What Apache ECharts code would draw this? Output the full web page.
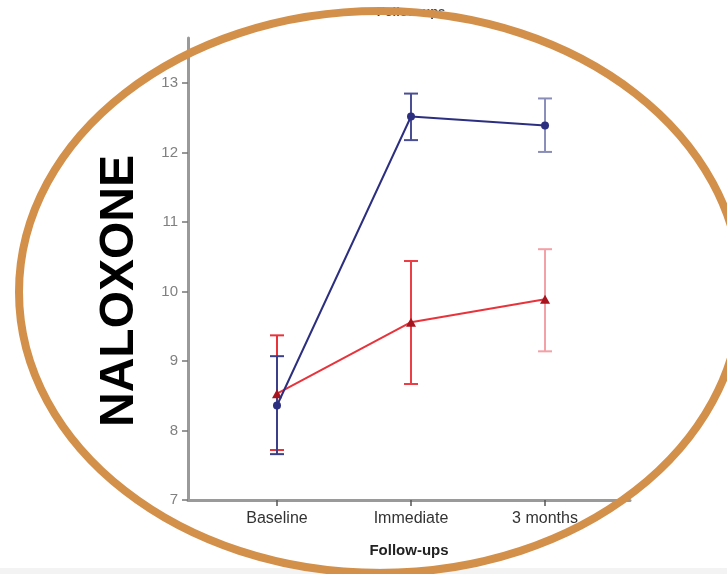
<!DOCTYPE html>
<html>
<head>
<meta charset="utf-8">
<script src="https://cdn.jsdelivr.net/npm/echarts@6/dist/echarts.min.js"></script>
<style>
html,body{margin:0;padding:0;background:#fff;}
#chart{width:727px;height:574px;}
</style>
</head>
<body>
<div id="chart"></div>
<script>
// ---- data ----
const categories = ['Baseline', 'Immediate', '3 months'];
const yTicks = [7, 8, 9, 10, 11, 12, 13];
const blueMean = [8.36, 12.52, 12.39];
const blueLow  = [7.66, 12.18, 12.01];
const blueHigh = [9.07, 12.85, 12.78];
const redMean  = [8.53, 9.56, 9.89];
const redLow   = [7.72, 8.67, 9.14];
const redHigh  = [9.37, 10.44, 10.61];
const titleText = 'Follow-ups';
const xAxisName = 'Follow-ups';
const sideLabel = 'NALOXONE';

// ---- build ----
const xIdx = categories.map((c, i) => i);
const BLUE = '#2c2f80';
const RED = '#e8333b';

function errSeries(low, high, colors) {
  return {
    type: 'custom',
    silent: true,
    data: xIdx.map(i => [i, low[i], high[i]]),
    encode: { x: 0, y: [1, 2] },
    renderItem: function (params, api) {
      const x = api.value(0);
      const lo = api.coord([x, api.value(1)]);
      const hi = api.coord([x, api.value(2)]);
      const w = 7;
      const st = { stroke: colors[params.dataIndex], lineWidth: 2, fill: null };
      return {
        type: 'group',
        children: [
          { type: 'line', shape: { x1: lo[0], y1: lo[1], x2: hi[0], y2: hi[1] }, style: st },
          { type: 'line', shape: { x1: lo[0] - w, y1: lo[1], x2: lo[0] + w, y2: lo[1] }, style: st },
          { type: 'line', shape: { x1: hi[0] - w, y1: hi[1], x2: hi[0] + w, y2: hi[1] }, style: st }
        ]
      };
    },
    z: 2
  };
}

const chart = echarts.init(document.getElementById('chart'), null, { renderer: 'canvas' });
chart.setOption({
  animation: false,
  backgroundColor: '#ffffff',
  grid: { left: 188, right: 97, top: 38, bottom: 74, containLabel: false },
  xAxis: {
    type: 'value',
    min: -0.664,
    max: 2.634,
    name: xAxisName,
    nameLocation: 'middle',
    nameGap: 43,
    nameTextStyle: { fontFamily: 'Liberation Sans', fontWeight: 'bold', fontSize: 15, color: '#222' },
    splitLine: { show: false },
    axisLine: { show: true, onZero: false, lineStyle: { color: '#9a9a9a', width: 3 } },
    axisTick: { show: true, customValues: xIdx, length: 6, lineStyle: { color: '#555', width: 1.5 } },
    axisLabel: {
      customValues: xIdx,
      formatter: v => categories[Math.round(v)] || '',
      fontFamily: 'Liberation Sans', fontSize: 16, color: '#333', margin: 11
    }
  },
  yAxis: {
    type: 'value',
    min: 7,
    max: 13.65,
    interval: 1,
    splitLine: { show: false },
    axisLine: { show: true, onZero: false, lineStyle: { color: '#9a9a9a', width: 3 } },
    axisTick: { show: true, customValues: yTicks, length: 6, lineStyle: { color: '#777', width: 1.5 } },
    axisLabel: {
      customValues: yTicks,
      fontFamily: 'Liberation Sans', fontSize: 15, color: '#808080', margin: 10
    }
  },
  series: [
    errSeries(redLow, redHigh, ['#e8333b', '#ea3f47', '#f3a0a6']),
    errSeries(blueLow, blueHigh, ['#3b3f88', '#4a4e92', '#8a8db8']),
    {
      type: 'line',
      data: xIdx.map(i => [i, redMean[i]]),
      symbol: 'triangle',
      symbolSize: [10, 9],
      lineStyle: { color: RED, width: 2 },
      itemStyle: { color: '#a8141e' },
      z: 3
    },
    {
      type: 'line',
      data: xIdx.map(i => [i, blueMean[i]]),
      symbol: 'circle',
      symbolSize: 8,
      lineStyle: { color: BLUE, width: 2 },
      itemStyle: { color: BLUE },
      z: 4
    }
  ],
  graphic: [
    { type: 'rect', shape: { x: 0, y: 568, width: 727, height: 6 }, style: { fill: '#f3f3f3' }, z: 1 },
    {
      type: 'text', x: 411, y: 12, z: 5,
      style: { text: titleText, fontFamily: 'Liberation Sans', fontWeight: 'bold', fontSize: 13, fill: '#444', align: 'center', verticalAlign: 'middle' }
    },
    {
      type: 'text', x: 120, y: 291, rotation: Math.PI / 2, z: 20,
      style: { text: sideLabel, fontFamily: 'Liberation Sans', fontWeight: 'bold', fontSize: 48, fill: '#000', align: 'center', verticalAlign: 'middle' }
    },
    {
      type: 'ellipse', z: 30,
      shape: { cx: 380, cy: 292, rx: 361, ry: 281 },
      style: { fill: null, stroke: '#d2904a', lineWidth: 8 }
    }
  ]
});
</script>
</body>
</html>
